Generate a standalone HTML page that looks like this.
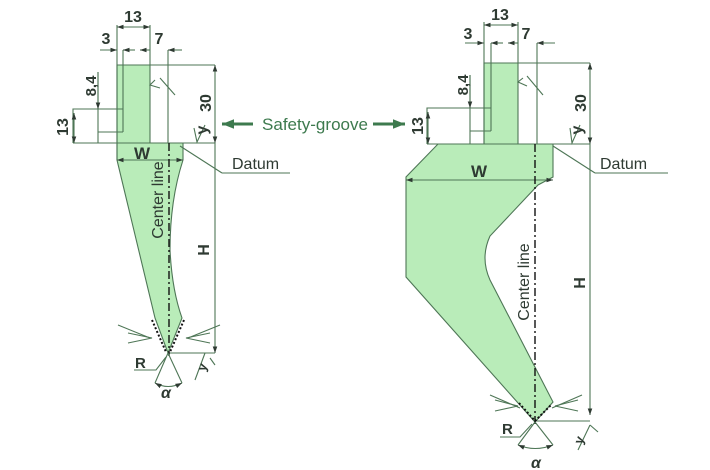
<!DOCTYPE html>
<html><head><meta charset="utf-8"><style>
html,body{margin:0;padding:0;background:#fff;}
svg{display:block;}
text{font-family:"Liberation Sans Narrow","Liberation Sans",sans-serif;font-weight:bold;fill:#2e3a32;}
</style></head><body>
<svg width="710" height="470" viewBox="0 0 710 470" xmlns="http://www.w3.org/2000/svg">
<defs>
<marker id="a" viewBox="0 0 10 10" refX="10" refY="5" markerWidth="6" markerHeight="6" orient="auto-start-reverse"><path d="M0,1.5 L10,5 L0,8.5z" fill="#2e3a32"/></marker>
<marker id="g" viewBox="0 0 10 10" refX="10" refY="5" markerWidth="4" markerHeight="4" orient="auto-start-reverse"><path d="M0,1 L10,5 L0,9z" fill="#3d7a4e"/></marker>
</defs>
<g stroke="#4e7656" stroke-width="1.1" fill="none">
<!-- LEFT TOOL -->
<path d="M117,65 L150,65 L150,143 L183,143 L183,160 Q170,200 170,250 Q172,290 182,318 L168,353 L155,318 L117,160 Z" fill="#b9ecb9"/>
<line x1="117" y1="25" x2="117" y2="160"/>
<line x1="150" y1="25" x2="150" y2="65"/>
<line x1="123" y1="50" x2="123" y2="132"/>
<line x1="168" y1="50" x2="168" y2="143"/>
<line x1="150" y1="65" x2="215" y2="65"/>
<line x1="73" y1="143" x2="215" y2="143"/>
<polyline points="73,143 73,109 123,109"/>
<line x1="98" y1="72" x2="98" y2="143"/>
<line x1="98" y1="132" x2="123" y2="132"/>
<line x1="117" y1="27" x2="150" y2="27" marker-start="url(#a)" marker-end="url(#a)"/>
<line x1="100" y1="50" x2="117" y2="50" marker-end="url(#a)"/>
<line x1="123" y1="50" x2="135" y2="50" marker-start="url(#a)"/>
<line x1="140" y1="50" x2="150" y2="50" marker-start="url(#a)"/>
<line x1="168" y1="50" x2="182" y2="50" marker-start="url(#a)"/>
<line x1="74" y1="113" x2="74" y2="143" marker-start="url(#a)" marker-end="url(#a)"/>
<line x1="98" y1="72" x2="98" y2="109" marker-end="url(#a)"/>
<line x1="215" y1="65" x2="215" y2="143" marker-start="url(#a)" marker-end="url(#a)"/>
<line x1="215" y1="143" x2="215" y2="353" marker-end="url(#a)"/>
<line x1="168" y1="353" x2="215" y2="353"/>
<line x1="117" y1="160" x2="183" y2="160" marker-start="url(#a)" marker-end="url(#a)"/>
<line x1="169" y1="143" x2="169" y2="356" stroke-dasharray="8,3,2,3" stroke-width="1.4" stroke="#111"/>
<polyline points="155,80 150,85 160,88"/><line x1="160" y1="78" x2="175" y2="95"/>
<polyline points="194,128 197,142 205,125"/>
<polyline points="222,173 290,173"/><line x1="222" y1="173" x2="180" y2="146"/>
<path d="M152,320 L166,352 M184,320 L170,352" stroke="#111" stroke-dasharray="2,2" stroke-width="2"/>
<polyline points="128,333 152,338 128,343"/><line x1="118" y1="325" x2="150" y2="338"/>
<polyline points="210,333 186,338 210,343"/><line x1="220" y1="325" x2="188" y2="338"/>
<polyline points="134,370 156,370 166,357"/>
<line x1="168" y1="353" x2="155" y2="383"/><line x1="168" y1="353" x2="182" y2="383"/>
<path d="M155,383 Q168,390 182,383" marker-start="url(#a)" marker-end="url(#a)"/>
<polyline points="205,353 195,380"/><polyline points="210,358 215,365"/>
<!-- RIGHT TOOL -->
<path d="M484,63 L518,63 L518,144 L553,144 L553,177 L538,185 L490,236 Q480,258 490,280 L553,402 L535,422 L406,277 L406,177 L438,144 L484,144 Z" fill="#b9ecb9"/>
<line x1="484" y1="22" x2="484" y2="144"/>
<line x1="518" y1="22" x2="518" y2="63"/>
<line x1="491" y1="43" x2="491" y2="131"/>
<line x1="537" y1="43" x2="537" y2="144"/>
<line x1="518" y1="63" x2="590" y2="63"/>
<line x1="427" y1="144" x2="590" y2="144"/>
<polyline points="427,144 427,108 491,108"/>
<line x1="470" y1="75" x2="470" y2="144"/>
<line x1="470" y1="131" x2="491" y2="131"/>
<line x1="484" y1="25" x2="518" y2="25" marker-start="url(#a)" marker-end="url(#a)"/>
<line x1="465" y1="43" x2="484" y2="43" marker-end="url(#a)"/>
<line x1="491" y1="43" x2="503" y2="43" marker-start="url(#a)"/>
<line x1="508" y1="43" x2="518" y2="43" marker-start="url(#a)"/>
<line x1="537" y1="43" x2="555" y2="43" marker-start="url(#a)"/>
<line x1="428" y1="112" x2="428" y2="144" marker-start="url(#a)" marker-end="url(#a)"/>
<line x1="470" y1="75" x2="470" y2="108" marker-end="url(#a)"/>
<line x1="590" y1="63" x2="590" y2="144" marker-start="url(#a)" marker-end="url(#a)"/>
<line x1="590" y1="144" x2="590" y2="415" marker-end="url(#a)"/>
<line x1="535" y1="421" x2="590" y2="421"/>
<line x1="406" y1="180" x2="553" y2="180" marker-start="url(#a)" marker-end="url(#a)"/>
<line x1="535" y1="144" x2="535" y2="425" stroke-dasharray="8,3,2,3" stroke-width="1.4" stroke="#111"/>
<polyline points="523,78 518,82 527,86"/><line x1="527" y1="76" x2="543" y2="95"/>
<polyline points="570,128 572,143 580,125"/>
<polyline points="595,173 668,173"/><line x1="595" y1="173" x2="553" y2="146"/>
<path d="M519,403 L535,421 L551,405" stroke="#111" stroke-dasharray="2,2" stroke-width="2"/>
<polyline points="495,400 518,406 495,411"/><line x1="490" y1="395" x2="520" y2="408"/>
<polyline points="578,400 555,406 578,411"/><line x1="582" y1="395" x2="552" y2="408"/>
<polyline points="500,437 520,437 532,424"/>
<line x1="535" y1="422" x2="518" y2="445"/><line x1="535" y1="422" x2="553" y2="445"/>
<path d="M518,445 Q535,452 553,445" marker-start="url(#a)" marker-end="url(#a)"/>
<line x1="590" y1="425" x2="578" y2="450"/><line x1="590" y1="425" x2="598" y2="432"/>
</g>
<line x1="253" y1="124" x2="222" y2="124" stroke="#3d7a4e" stroke-width="3" marker-end="url(#g)"/>
<line x1="373" y1="124" x2="405" y2="124" stroke="#3d7a4e" stroke-width="3" marker-end="url(#g)"/>
<text x="262" y="130" font-size="17" style="fill:#3d7a4e;font-weight:normal" textLength="106" lengthAdjust="spacingAndGlyphs">Safety-groove</text>
<!-- left labels -->
<text x="133" y="22" font-size="16" text-anchor="middle">13</text>
<text x="106" y="44" font-size="16" text-anchor="middle">3</text>
<text x="159" y="44" font-size="16" text-anchor="middle">7</text>
<text transform="translate(96,86) rotate(-90)" font-size="15" text-anchor="middle">8,4</text>
<text transform="translate(68,127) rotate(-90)" font-size="16" text-anchor="middle">13</text>
<text transform="translate(211,103) rotate(-90)" font-size="16" text-anchor="middle">30</text>
<text transform="translate(207,130) rotate(-90)" font-size="16" text-anchor="middle">y</text>
<text x="142" y="159" font-size="17" text-anchor="middle">W</text>
<text x="232" y="169" font-size="16" style="font-weight:normal">Datum</text>
<text transform="translate(163,200) rotate(-90)" font-size="16" text-anchor="middle" style="font-weight:normal">Center line</text>
<text transform="translate(209,250) rotate(-90)" font-size="16" text-anchor="middle">H</text>
<text x="135" y="368" font-size="15">R</text>
<text x="166" y="398" font-size="16" text-anchor="middle" style="font-style:italic">α</text>
<text transform="translate(205,372) rotate(-70)" font-size="13">y</text>
<!-- right labels -->
<text x="500" y="20" font-size="16" text-anchor="middle">13</text>
<text x="468" y="39" font-size="16" text-anchor="middle">3</text>
<text x="526" y="39" font-size="16" text-anchor="middle">7</text>
<text transform="translate(468,85) rotate(-90)" font-size="15" text-anchor="middle">8,4</text>
<text transform="translate(423,126) rotate(-90)" font-size="16" text-anchor="middle">13</text>
<text transform="translate(586,103) rotate(-90)" font-size="16" text-anchor="middle">30</text>
<text transform="translate(582,130) rotate(-90)" font-size="16" text-anchor="middle">y</text>
<text x="479" y="177" font-size="17" text-anchor="middle">W</text>
<text x="600" y="169" font-size="16" style="font-weight:normal">Datum</text>
<text transform="translate(529,282) rotate(-90)" font-size="16" text-anchor="middle" style="font-weight:normal">Center line</text>
<text transform="translate(585,283) rotate(-90)" font-size="16" text-anchor="middle">H</text>
<text x="502" y="434" font-size="15">R</text>
<text x="536" y="468" font-size="16" text-anchor="middle" style="font-style:italic">α</text>
<text transform="translate(582,445) rotate(-70)" font-size="13">y</text>
</svg>
</body></html>
